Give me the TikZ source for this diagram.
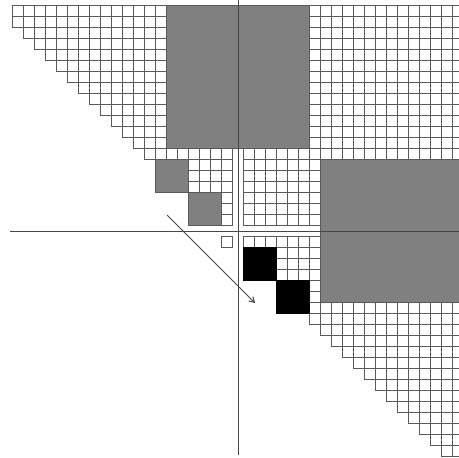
\documentclass[tikz,border=0pt]{standalone}
\usetikzlibrary{arrows.meta}
\definecolor{gridc}{RGB}{90,90,90}
\definecolor{sepc}{RGB}{70,70,70}
\definecolor{blockgray}{RGB}{128,128,128}
\begin{document}
\begin{tikzpicture}[x=1bp,y=-1bp,
  cell/.style={draw=gridc, line width=1.7bp},
  grayblock/.style={fill=blockgray, draw=gridc, line width=1.7bp},
  blackblock/.style={fill=black, draw=black, line width=1.7bp},
  sepline/.style={draw=sepc, line width=1.3bp},
  arrowline/.style={draw=sepc, line width=1bp, -{Straight Barb[length=5bp,width=6bp]}}]
\useasboundingbox (0,0) rectangle (459,458);
\def\s{11}
\def\ox{12.5}
\def\oy{5.5}
% grid cells of the Hessenberg pattern
\foreach \r in {0,...,40}{
  \ifnum\r=20\relax\else
    \pgfmathtruncatemacro\cs{max(0,\r-1)}
    \foreach \c in {\cs,...,40}{
      \ifnum\c=20\relax\else
        \draw[cell] ({\ox+\s*\c},{\oy+\s*\r}) rectangle +(\s,\s);
      \fi
    }
  \fi
}
% isolated small square
\draw[cell] ({\ox+\s*19},{\oy+\s*21}) rectangle +(\s,\s);
% gray blocks
\draw[grayblock] ({\ox+\s*14},{\oy+\s*0}) rectangle ({\ox+\s*27},{\oy+\s*13});
\draw[grayblock] ({\ox+\s*28},{\oy+\s*14}) rectangle ({\ox+\s*41},{\oy+\s*27});
\draw[grayblock] ({\ox+\s*13},{\oy+\s*14}) rectangle ({\ox+\s*16},{\oy+\s*17});
\draw[grayblock] ({\ox+\s*16},{\oy+\s*17}) rectangle ({\ox+\s*19},{\oy+\s*20});
% black blocks
\draw[blackblock] ({\ox+\s*21},{\oy+\s*22}) rectangle ({\ox+\s*24},{\oy+\s*25});
\draw[blackblock] ({\ox+\s*24},{\oy+\s*25}) rectangle ({\ox+\s*27},{\oy+\s*28});
% separator lines
\coordinate (vtop) at (238.5,0);
\coordinate (vbot) at (238.5,455);
\coordinate (hleft) at (10,231.5);
\coordinate (hright) at (459,231.5);
\draw[sepline] (vtop) -- (vbot);
\draw[sepline] (hleft) -- (hright);
% arrow
\coordinate (astart) at (167,215);
\coordinate (aend) at (255,303);
\draw[arrowline] (astart) -- (aend);
\end{tikzpicture}
\end{document}
